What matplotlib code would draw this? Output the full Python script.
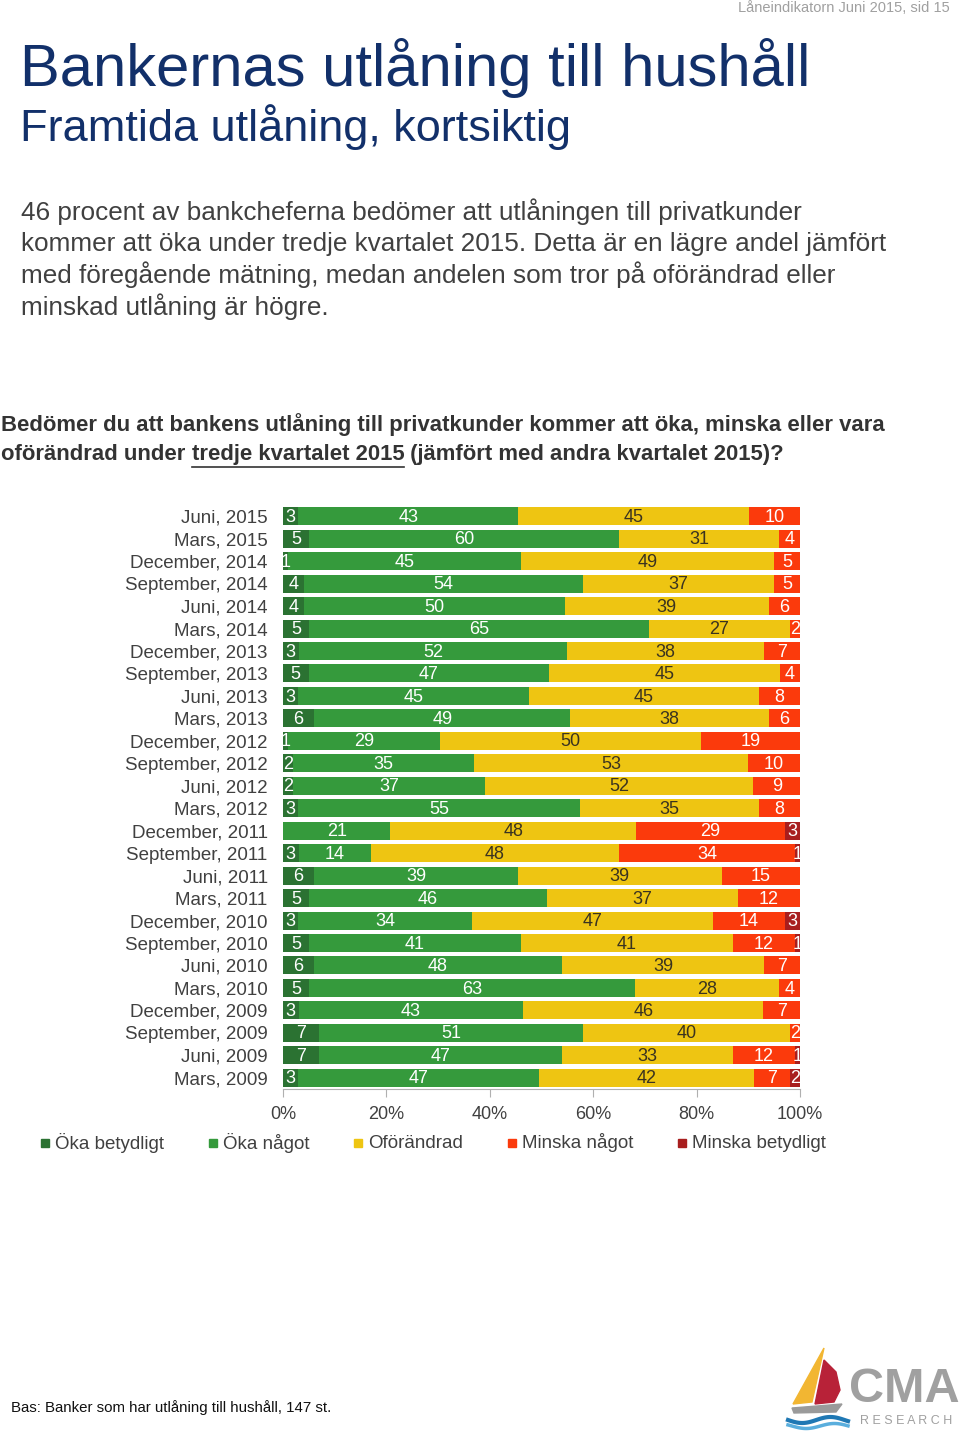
import matplotlib.pyplot as plt
import matplotlib.patches as mpatches
import numpy as np

plt.rcParams['font.family'] = ['Liberation Sans', 'DejaVu Sans']

# survey periods, top row first
periods = ["Juni, 2015", "Mars, 2015", "December, 2014", "September, 2014",
           "Juni, 2014", "Mars, 2014", "December, 2013", "September, 2013",
           "Juni, 2013", "Mars, 2013", "December, 2012", "September, 2012",
           "Juni, 2012", "Mars, 2012", "December, 2011", "September, 2011",
           "Juni, 2011", "Mars, 2011", "December, 2010", "September, 2010",
           "Juni, 2010", "Mars, 2010", "December, 2009", "September, 2009",
           "Juni, 2009", "Mars, 2009"]

oka_betydligt = [3, 5, 1, 4, 4, 5, 3, 5, 3, 6, 1, 2, 2, 3, 0, 3, 6, 5, 3, 5, 6, 5, 3, 7, 7, 3]
oka_nagot = [43, 60, 45, 54, 50, 65, 52, 47, 45, 49, 29, 35, 37, 55, 21, 14, 39, 46, 34, 41, 48, 63, 43, 51, 47, 47]
oforandrad = [45, 31, 49, 37, 39, 27, 38, 45, 45, 38, 50, 53, 52, 35, 48, 48, 39, 37, 47, 41, 39, 28, 46, 40, 33, 42]
minska_nagot = [10, 4, 5, 5, 6, 2, 7, 4, 8, 6, 19, 10, 9, 8, 29, 34, 15, 12, 14, 12, 7, 4, 7, 2, 12, 7]
minska_betydligt = [0, 0, 0, 0, 0, 0, 0, 0, 0, 0, 0, 0, 0, 0, 3, 1, 0, 0, 3, 1, 0, 0, 0, 0, 1, 2]

series_names = ["Öka betydligt", "Öka något", "Oförändrad", "Minska något", "Minska betydligt"]
colors = ["#2B7232", "#359A3C", "#EEC512", "#FB3A0C", "#A81E1E"]
label_colors = ["white", "white", "#3a3320", "white", "white"]

series = np.array([oka_betydligt, oka_nagot, oforandrad, minska_nagot, minska_betydligt], dtype=float)
shares = series / series.sum(axis=0) * 100

W, H = 960, 1431
fig = plt.figure(figsize=(W / 100, H / 100), dpi=100)

def fx(px):
    return px / W

def fy(py):
    return 1 - py / H

# header
fig.text(fx(950), fy(8), "Låneindikatorn Juni 2015, sid 15", ha="right", va="center",
         fontsize=10.5, color="#a0a0a0")
fig.text(fx(20), fy(68), "Bankernas utlåning till hushåll", ha="left", va="center",
         fontsize=43, color="#12306A")
fig.text(fx(20), fy(127), "Framtida utlåning, kortsiktig", ha="left", va="center",
         fontsize=32.5, color="#12306A")

body = ["46 procent av bankcheferna bedömer att utlåningen till privatkunder",
        "kommer att öka under tredje kvartalet 2015. Detta är en lägre andel jämfört",
        "med föregående mätning, medan andelen som tror på oförändrad eller",
        "minskad utlåning är högre."]
for i, line in enumerate(body):
    fig.text(fx(21), fy(212 + i * 31.5), line, ha="left", va="center",
             fontsize=18.8, color="#404040")

# question, second line has an underlined part
qcol = "#333333"
qsize = 15.9
fig.text(fx(1), fy(425), "Bedömer du att bankens utlåning till privatkunder kommer att öka, minska eller vara",
         ha="left", va="center", fontsize=qsize, fontweight="bold", color=qcol)
renderer = fig.canvas.get_renderer()
parts = ["oförändrad under ", "tredje kvartalet 2015", " (jämfört med andra kvartalet 2015)?"]
x = 1
for k, p in enumerate(parts):
    t = fig.text(fx(x), fy(455), p, ha="left", va="center", fontsize=qsize,
                 fontweight="bold", color=qcol)
    w = t.get_window_extent(renderer=renderer).width
    if k == 1:
        fig.add_artist(plt.Line2D([fx(x), fx(x + w)], [fy(467), fy(467)],
                                  color=qcol, lw=1.2))
    x += w

# chart
ax = fig.add_axes([fx(283), fy(1089), fx(800) - fx(283), (1089 - 505) / H])
y = np.arange(len(periods))
left = np.zeros(len(periods))
for s in range(len(series_names)):
    ax.barh(y, shares[s], left=left, height=0.8, color=colors[s], edgecolor="none")
    for i in range(len(periods)):
        if series[s, i] > 0:
            ax.text(left[i] + shares[s, i] / 2, y[i] + 0.05, "%d" % series[s, i],
                    ha="center", va="center", fontsize=13, color=label_colors[s])
    left += shares[s]

ax.set_xlim(0, 100)
ax.set_ylim(len(periods) - 0.5, -0.5)
ax.set_yticks(y)
ax.set_yticklabels(periods, fontsize=13.5, color="#404040")
ax.tick_params(axis="y", length=0, pad=11)
ax.set_xticks([0, 20, 40, 60, 80, 100])
ax.set_xticklabels(["0%", "20%", "40%", "60%", "80%", "100%"], fontsize=13, color="#404040")
ax.tick_params(axis="x", length=6, color="#b0b0b0", pad=6)
for side in ["top", "right", "left"]:
    ax.spines[side].set_visible(False)
ax.spines["bottom"].set_color("#b0b0b0")

# legend
leg_x = [41, 209, 354, 508, 678]
for s in range(len(series_names)):
    fig.add_artist(mpatches.Rectangle((fx(leg_x[s]), fy(1147)), fx(8), 8 / H,
                                      color=colors[s], transform=fig.transFigure))
    fig.text(fx(leg_x[s] + 14), fy(1143), series_names[s], ha="left", va="center",
             fontsize=13.5, color="#404040")

# footer
fig.text(fx(11), fy(1408), "Bas: Banker som har utlåning till hushåll, 147 st.", ha="left",
         va="center", fontsize=10.8, color="#111111")

# CMA logo, drawn in pixel coordinates
lax = fig.add_axes([fx(785), 0, fx(175), 92 / H])
lax.set_xlim(785, 960)
lax.set_ylim(1431, 1339)
lax.axis("off")
lax.add_patch(mpatches.Polygon([(793, 1404), (824, 1348), (812, 1402)], color="#F2B632"))
lax.add_patch(mpatches.Polygon([(824, 1360), (836, 1372), (840, 1390), (834, 1402), (815, 1404)],
                               color="#B82238"))
lax.add_patch(mpatches.Polygon([(792, 1408), (842, 1404), (836, 1412), (794, 1413)], color="#9a9a9a"))
xw = np.linspace(788, 848, 60)
lax.plot(xw, 1420 + 3 * np.sin((xw - 788) / 9), color="#1F78B4", lw=3)
lax.plot(xw, 1426 + 2.5 * np.sin((xw - 792) / 9), color="#5AAEDD", lw=2.5)
lax.text(904, 1389, "CMA", ha="center", va="center", fontsize=35, fontweight="bold",
         color="#a0a0a0")
lax.text(906, 1421, "R E S E A R C H", ha="center", va="center", fontsize=9, color="#a0a0a0")

fig.savefig("out.png", dpi=100)
